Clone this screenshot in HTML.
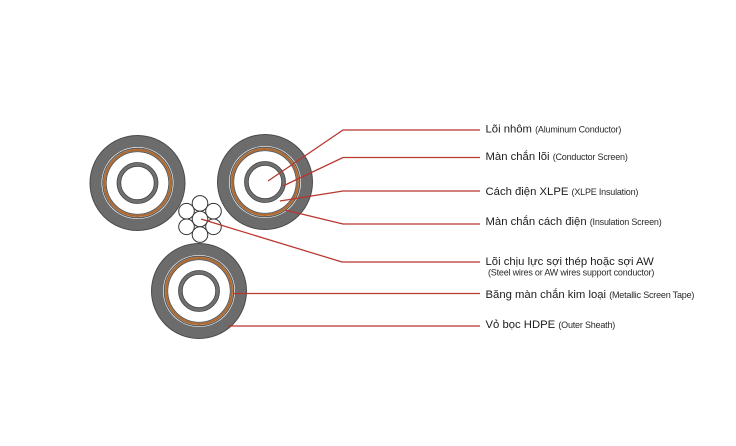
<!DOCTYPE html>
<html>
<head>
<meta charset="utf-8">
<style>
  html,body{margin:0;padding:0;background:#fff;}
  svg{display:block;}
  .m{font-family:"Liberation Sans",Arial,sans-serif;font-size:11.3px;fill:#1c1c1c;}
  .s{font-size:9px;letter-spacing:-0.2px;fill:#2a2a2a;}
</style>
</head>
<body>
<svg width="736" height="446" viewBox="0 0 736 446" xmlns="http://www.w3.org/2000/svg">
  <rect width="736" height="446" fill="#fff"/>
  <defs>
    <g id="cable">
      <circle r="47.5" fill="#6c6c6c" stroke="#4b4b4b" stroke-width="1"/>
      <circle r="36" fill="#ffffff"/>
      <circle r="34.7" fill="none" stroke="#5c5c5c" stroke-width="1.3"/>
      <circle r="32.9" fill="none" stroke="#b4692b" stroke-width="2.1"/>
      <circle r="31.3" fill="none" stroke="#5a5a5a" stroke-width="1.1"/>
      <circle r="30.7" fill="#ffffff"/>
      <circle r="18.6" fill="none" stroke="#707070" stroke-width="3.8"/>
      <circle r="20.5" fill="none" stroke="#454545" stroke-width="0.8"/>
      <circle r="16.7" fill="none" stroke="#454545" stroke-width="0.8"/>
    </g>
  </defs>

  <use href="#cable" x="137.5" y="183"/>
  <use href="#cable" x="265" y="182"/>
  <use href="#cable" x="199" y="291"/>

  <!-- strand bundle -->
  <g fill="#fff" stroke="#333" stroke-width="1">
    <circle cx="200" cy="203.4" r="7.8"/>
    <circle cx="186.5" cy="211.2" r="7.8"/>
    <circle cx="213.5" cy="211.2" r="7.8"/>
    <circle cx="200" cy="219" r="7.8"/>
    <circle cx="186.5" cy="226.8" r="7.8"/>
    <circle cx="213.5" cy="226.8" r="7.8"/>
    <circle cx="200" cy="234.6" r="7.8"/>
  </g>

  <!-- leader lines -->
  <g fill="none" stroke="#b9352e" stroke-width="1.25">
    <path d="M268,181 L343,130 L480,130"/>
    <path d="M283,186 L343,157.5 L480,157.5"/>
    <path d="M280,201 L343,191 L480,191"/>
    <path d="M285,210 L343,224 L480,224"/>
    <path d="M201,219 L342,262 L480,262"/>
    <path d="M234,293.5 L480,293.5"/>
    <path d="M228,326 L480,326"/>
  </g>

  <!-- labels -->
  <text class="m" x="485.5" y="132.5">Lõi nhôm <tspan class="s">(Aluminum Conductor)</tspan></text>
  <text class="m" x="485.5" y="160">Màn chắn lõi <tspan class="s">(Conductor Screen)</tspan></text>
  <text class="m" x="485.5" y="195">Cách điện XLPE <tspan class="s">(XLPE Insulation)</tspan></text>
  <text class="m" x="485.5" y="225">Màn chắn cách điện <tspan class="s">(Insulation Screen)</tspan></text>
  <text class="m" x="485.5" y="265">Lõi chịu lực sợi thép hoặc sợi AW</text>
  <text class="m s" x="488" y="275.5">(Steel wires or AW wires support conductor)</text>
  <text class="m" x="485.5" y="298">Băng màn chắn kim loại <tspan class="s">(Metallic Screen Tape)</tspan></text>
  <text class="m" x="485.5" y="328">Vỏ bọc HDPE <tspan class="s">(Outer Sheath)</tspan></text>
</svg>
</body>
</html>
